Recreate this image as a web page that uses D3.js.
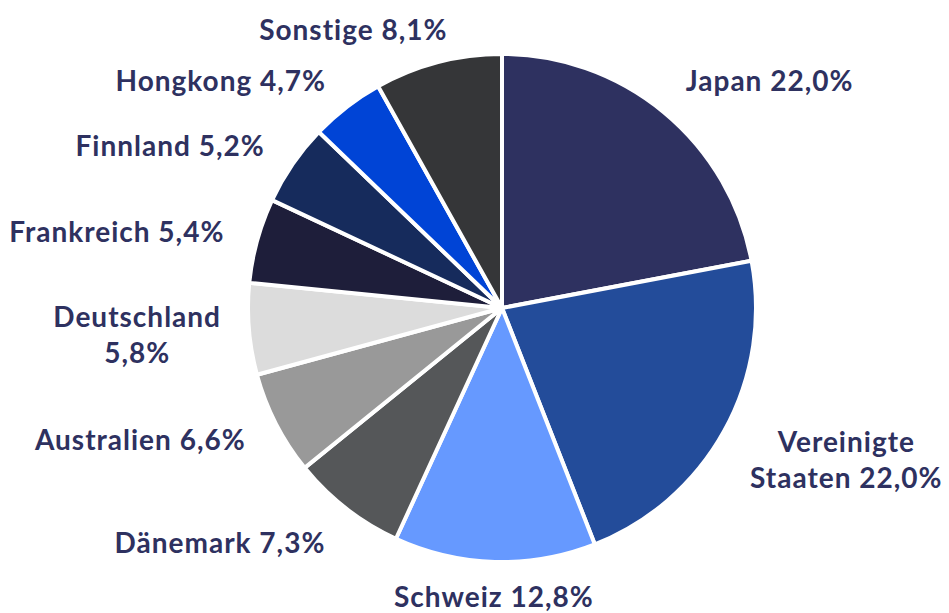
<!DOCTYPE html>
<html>
<head>
<meta charset="utf-8">
<script src="https://cdn.jsdelivr.net/npm/d3@7"></script>
<style>
  html, body { margin: 0; padding: 0; background: #fff; }
  text { font-family: Lato, "Open Sans", sans-serif; font-weight: 700; fill: #2e3160; }
</style>
</head>
<body>
<script>
window.onload = function(){

// data (clockwise from 12 o'clock)
let countries = ["Japan", "Vereinigte\nStaaten", "Schweiz", "Dänemark", "Australien",
	"Deutschland\n", "Frankreich", "Finnland", "Hongkong", "Sonstige"];
let shares = [22.0, 22.0, 12.8, 7.3, 6.6, 5.8, 5.4, 5.2, 4.7, 8.1];
let colors = ["#2e3160", "#234c9a", "#6699ff", "#555759", "#999999",
	"#dcdcdc", "#1e1e3a", "#162b5c", "#0044d6", "#353638"];

let width = 949,
	height = 613,
	cx = 502,
	cy = 308,
	radius = 254,
	labelRadius = 288;

let svg = d3.select("body").append("svg").attr("width", width).attr("height", height);
let canvas = svg.append("g").attr("transform", "translate(" + cx + "," + cy + ")");

let fmt = v => v.toFixed(1).replace(".", ",") + "%";

let data = countries.map((c, i) => ({name: c, value: shares[i], color: colors[i]}));

let pie = d3.pie().sort(null).value(d => d.value);
let arc = d3.arc().innerRadius(0).outerRadius(radius);
let labelArc = d3.arc().innerRadius(labelRadius).outerRadius(labelRadius);

let arcs = pie(data);

canvas.selectAll("path.slice")
	.data(arcs)
	.enter().append("path")
	.attr("class", "slice")
	.attr("d", arc)
	.style("fill", d => d.data.color)
	.style("stroke", "#fff")
	.style("stroke-width", 4)
	.style("stroke-linejoin", "round");

// small manual nudges where the original layout shifts a label
let nudge = {
	"Sonstige": [18, 0],
	"Japan": [0, -6],
	"Vereinigte\nStaaten": [-4, 12],
	"Dänemark": [0, 7],
	"Deutschland\n": [6, 2]
};

let labels = canvas.selectAll("g.label")
	.data(arcs)
	.enter().append("g")
	.attr("class", "label");

labels.each(function(d){
	let g = d3.select(this);
	let parts = d.data.name.split("\n");
	let lines;
	if (parts.length > 1) {
		lines = parts[1] === "" ? [parts[0], fmt(d.data.value)] : [parts[0], parts[1] + " " + fmt(d.data.value)];
	} else {
		lines = [parts[0] + " " + fmt(d.data.value)];
	}
	let t = g.append("text").attr("text-anchor", "middle")
		.style("font-size", "28px")
		.style("letter-spacing", "1px");
	lines.forEach((l, i) => {
		t.append("tspan").attr("x", 0).attr("y", i * 36).text(l);
	});
	let bb = t.node().getBBox();
	let p = labelArc.centroid(d);
	let mid = (d.startAngle + d.endAngle) / 2;
	let s = Math.sin(mid);
	let x;
	if (s > 0.2) x = p[0] - bb.x;               // left edge on point
	else if (s < -0.2) x = p[0] - (bb.x + bb.width); // right edge on point
	else x = p[0] - (bb.x + bb.width / 2);
	let y = p[1] - (bb.y + bb.height / 2);
	let n = nudge[d.data.name] || [0, 0];
	g.attr("transform", "translate(" + (x + n[0]) + "," + (y + n[1]) + ")");
});

};
</script>
</body>
</html>
